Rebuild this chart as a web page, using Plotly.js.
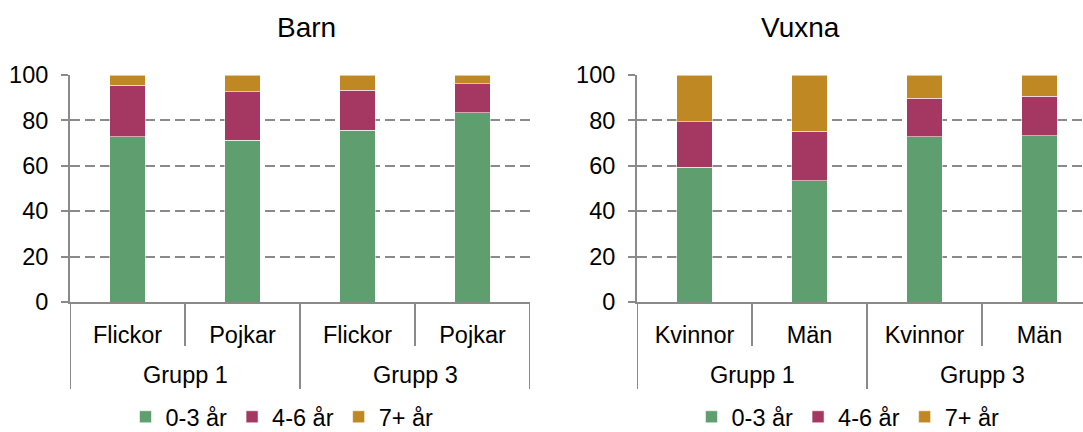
<!DOCTYPE html>
<html>
<head>
<meta charset="utf-8">
<script src="https://cdn.plot.ly/plotly-3.0.1.min.js"></script>
<style>html,body{margin:0;padding:0;background:#fff;}#chart{width:1083px;height:432px;}</style>
</head>
<body>
<div id="chart"></div>
<script>
// ---- data ----
const seriesNames = ["0-3 år", "4-6 år", "7+ år"];
const seriesColors = ["#5F9E6E", "#A53862", "#BF8822"];

const barnGroups = ["Grupp 1", "Grupp 3"];
const barnCategories = ["Flickor", "Pojkar", "Flickor", "Pojkar"];
const barn_0_3 = [72.7, 71.3, 75.7, 83.3];
const barn_4_6 = [22.8, 21.4, 17.6, 12.9];
const barn_7p = [4.5, 7.3, 6.7, 3.8];

const vuxnaGroups = ["Grupp 1", "Grupp 3"];
const vuxnaCategories = ["Kvinnor", "Män", "Kvinnor", "Män"];
const vuxna_0_3 = [59.4, 53.4, 72.7, 73.2];
const vuxna_4_6 = [20.1, 21.8, 17.0, 17.4];
const vuxna_7p = [20.5, 24.8, 10.3, 9.4];

const yTicks = [0, 20, 40, 60, 80, 100];

// ---- build ----
const W = 1083, H = 432;
const FONT = '"Liberation Sans", Arial, sans-serif';
const GRAY = "#8a8a8a";
const FS = 23.5;
const px = v => v / W;
const py = v => 1 - v / H;

const barnX = barnCategories.map((_, i) => i);
const vuxnaX = vuxnaCategories.map((_, i) => i);

function mkTraces(xs, sets, xa, ya, leg) {
  return sets.map((vals, k) => ({
    type: "bar", x: xs, y: vals, name: seriesNames[k],
    xaxis: xa, yaxis: ya, legend: leg,
    marker: { color: seriesColors[k], line: { color: "rgba(255,255,255,0.55)", width: 1 } },
    width: 0.31, hoverinfo: "y"
  }));
}

const traces = [
  ...mkTraces(barnX, [barn_0_3, barn_4_6, barn_7p], "x", "y", "legend"),
  ...mkTraces(vuxnaX, [vuxna_0_3, vuxna_4_6, vuxna_7p], "x2", "y2", "legend2")
];

const yDom = [py(302), py(75)];
function yAx(anchor) {
  return {
    domain: yDom, anchor: anchor, range: [0, 100], tickvals: yTicks,
    showgrid: true, gridcolor: GRAY, griddash: "10px,5px", gridwidth: 2,
    showline: true, linecolor: GRAY, linewidth: 2,
    ticks: "outside", ticklen: 7, tickcolor: GRAY, tickwidth: 2,
    ticklabelstandoff: 8,
    zeroline: false, tickfont: { size: FS, color: "#000", family: FONT },
    fixedrange: true, automargin: false
  };
}
function xAx(dom, range, anchor, xs, labels) {
  return {
    domain: dom, anchor: anchor, range: range,
    tickvals: xs, ticktext: labels, showgrid: false, zeroline: false,
    showline: true, linecolor: GRAY, linewidth: 2,
    ticks: "outside", ticklen: 11, tickcolor: "rgba(0,0,0,0)",
    tickfont: { size: FS, color: "#000", family: FONT }, fixedrange: true, automargin: false
  };
}

const shapes = [];
const annotations = [];
function decorate(xref, cats, groups) {
  const n = cats.length;
  for (let b = 0; b <= n; b++) {
    const isGroup = (b % 2 === 0);
    shapes.push({
      type: "line", xref: xref, yref: "paper",
      x0: b - 0.5, x1: b - 0.5, y0: py(302), y1: isGroup ? py(389) : py(346),
      line: { color: GRAY, width: 2 }
    });
  }
  groups.forEach((g, i) => {
    annotations.push({
      xref: xref, yref: "paper", x: i * 2 + 0.5, y: py(375), yanchor: "middle",
      text: g, showarrow: false, font: { size: FS, color: "#000", family: FONT }
    });
  });
}
decorate("x", barnCategories, barnGroups);
decorate("x2", vuxnaCategories, vuxnaGroups);

annotations.push({ xref: "paper", yref: "paper", x: px(275), y: py(27), yanchor: "middle",
  text: "Barn", showarrow: false, font: { size: 28, color: "#000", family: FONT } });
annotations.push({ xref: "paper", yref: "paper", x: px(842), y: py(27), yanchor: "middle",
  text: "Vuxna", showarrow: false, font: { size: 28, color: "#000", family: FONT } });

const legendBase = {
  orientation: "h", xanchor: "center", yanchor: "middle",
  y: py(417),
  font: { size: FS, color: "#000", family: FONT }, traceorder: "normal",
  itemclick: false, itemdoubleclick: false, bgcolor: "rgba(0,0,0,0)", tracegroupgap: 0,
  itemwidth: 30
};

const layout = {
  width: W, height: H, margin: { l: 0, r: 0, t: 0, b: 0, pad: 0, autoexpand: false },
  paper_bgcolor: "#fff", plot_bgcolor: "#fff",
  font: { family: FONT, color: "#000" },
  barmode: "stack", bargap: 0.69,
  xaxis: xAx([px(70), px(530)], [-0.5, 3.5], "y", barnX, barnCategories),
  yaxis: yAx("x"),
  xaxis2: xAx([px(637), 1], [-0.5, 3.5 - 14 / 115], "y2", vuxnaX, vuxnaCategories),
  yaxis2: yAx("x2"),
  legend: Object.assign({}, legendBase, { x: px(282) }),
  legend2: Object.assign({}, legendBase, { x: px(848) }),
  shapes: shapes, annotations: annotations, showlegend: true
};

Plotly.newPlot("chart", traces, layout, { displayModeBar: false, staticPlot: true });
</script>
</body>
</html>
